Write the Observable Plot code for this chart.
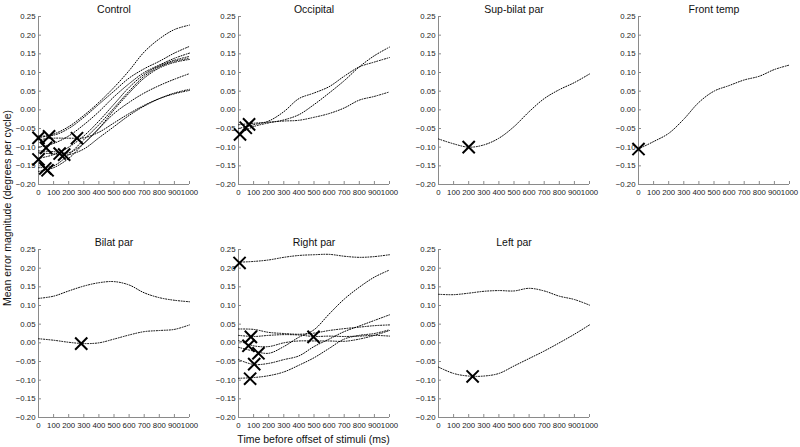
<!DOCTYPE html>
<html><head><meta charset="utf-8">
<script src="https://cdn.jsdelivr.net/npm/d3@7"></script>
<script src="https://cdn.jsdelivr.net/npm/@observablehq/plot@0.6"></script>
<style>
body{margin:0;background:#fff;font-family:"Liberation Sans",Arial,sans-serif;}
#chart{position:relative;width:800px;height:447px;}
.lab{position:absolute;font-size:10.5px;color:#111;white-space:nowrap;line-height:1;}
</style></head><body><div id="chart"></div>
<script>
const times = [0,100,200,300,400,500,600,700,800,900,1000];
const panels = ["Control","Occipital","Sup-bilat par","Front temp","Bilat par","Right par","Left par"];
const panelCol = [0,1,2,3,0,1,2];
const panelRow = [0,0,0,0,1,1,1];
const xTicks = [0,100,200,300,400,500,600,700,800,900,1000];
const yTicks = [-0.20,-0.15,-0.10,-0.05,0.00,0.05,0.10,0.15,0.20,0.25];

// series values at the times above, per panel
const controlSeries = [
  [-0.075,-0.065,-0.045,-0.015,0.02,0.06,0.105,0.155,0.19,0.215,0.227],
  [-0.07,-0.068,-0.05,-0.02,0.015,0.05,0.085,0.11,0.13,0.152,0.17],
  [-0.10,-0.09,-0.07,-0.04,-0.005,0.035,0.07,0.10,0.12,0.138,0.152],
  [-0.13,-0.12,-0.10,-0.07,-0.03,0.015,0.06,0.095,0.118,0.133,0.143],
  [-0.155,-0.15,-0.12,-0.08,-0.04,0.005,0.05,0.09,0.115,0.13,0.138],
  [-0.165,-0.155,-0.13,-0.09,-0.05,0.0,0.045,0.085,0.112,0.127,0.135],
  [-0.11,-0.112,-0.115,-0.09,-0.05,-0.01,0.02,0.045,0.065,0.082,0.097],
  [-0.115,-0.118,-0.12,-0.105,-0.075,-0.045,-0.015,0.01,0.03,0.045,0.055],
  [-0.08,-0.076,-0.076,-0.075,-0.06,-0.035,-0.01,0.012,0.03,0.043,0.052]
];
const occipitalSeries = [
  [-0.065,-0.045,-0.035,-0.027,-0.013,0.014,0.045,0.078,0.115,0.145,0.168],
  [-0.05,-0.04,-0.03,-0.005,0.03,0.045,0.062,0.09,0.115,0.128,0.14],
  [-0.04,-0.036,-0.033,-0.03,-0.028,-0.02,-0.01,0.005,0.026,0.036,0.048]
];
const supBilatSeries = [
  [-0.078,-0.091,-0.10,-0.094,-0.076,-0.045,-0.005,0.03,0.054,0.073,0.096]
];
const frontTempSeries = [
  [-0.105,-0.085,-0.063,-0.025,0.02,0.05,0.065,0.08,0.09,0.108,0.12]
];
const bilatParSeries = [
  [0.119,0.125,0.139,0.152,0.161,0.164,0.155,0.134,0.121,0.114,0.110],
  [0.011,0.007,0.0015,-0.002,0.0,0.01,0.021,0.03,0.033,0.036,0.048]
];
const rightParSeries = [
  [0.216,0.218,0.222,0.229,0.234,0.236,0.237,0.232,0.229,0.231,0.236],
  [-0.012,-0.022,-0.028,-0.01,0.015,0.035,0.077,0.117,0.149,0.176,0.195],
  [0.037,0.036,0.028,0.025,0.023,0.026,0.033,0.038,0.042,0.046,0.048],
  [0.02,0.017,0.02,0.022,0.021,0.017,0.018,0.017,0.018,0.02,0.018],
  [0.006,-0.008,-0.01,0.0,0.005,0.005,0.005,0.004,0.01,0.02,0.033],
  [-0.045,-0.058,-0.055,-0.045,-0.035,-0.01,0.01,0.03,0.045,0.06,0.075],
  [-0.095,-0.093,-0.088,-0.078,-0.06,-0.04,-0.015,0.01,0.02,0.025,0.035]
];
const leftParSeries = [
  [0.13,0.129,0.133,0.138,0.14,0.139,0.146,0.139,0.125,0.116,0.101],
  [-0.065,-0.082,-0.089,-0.089,-0.082,-0.062,-0.042,-0.022,0.0,0.023,0.048]
];
const allSeries = [controlSeries, occipitalSeries, supBilatSeries, frontTempSeries, bilatParSeries, rightParSeries, leftParSeries];

// X markers: [time, value]
const controlMarkers = [[0,-0.075],[70,-0.071],[50,-0.102],[0,-0.133],[45,-0.157],[60,-0.162],[140,-0.117],[170,-0.12],[255,-0.076]];
const occipitalMarkers = [[70,-0.039],[48,-0.048],[10,-0.066]];
const supBilatMarkers = [[200,-0.10]];
const frontTempMarkers = [[0,-0.105]];
const bilatParMarkers = [[283,-0.002]];
const rightParMarkers = [[7,0.214],[82,0.016],[66,-0.008],[132,-0.028],[104,-0.057],[77,-0.096],[497,0.016]];
const leftParMarkers = [[226,-0.09]];
const allMarkers = [controlMarkers, occipitalMarkers, supBilatMarkers, frontTempMarkers, bilatParMarkers, rightParMarkers, leftParMarkers];

const lineRows = [];
allSeries.forEach((ser, p) => ser.forEach((vals, s) => vals.forEach((v, i) =>
  lineRows.push({panel: panels[p], col: panelCol[p], row: panelRow[p], key: p + "-" + s, t: times[i], v}))));
const markRows = [];
allMarkers.forEach((ms, p) => ms.forEach(([t, v]) =>
  markRows.push({panel: panels[p], col: panelCol[p], row: panelRow[p], t, v})));
const titleRows = panels.map((name, p) => ({panel: name, col: panelCol[p], row: panelRow[p]}));

const axisColor = "#8a8a8a";
const chart = Plot.plot({
  width: 800, height: 447,
  marginLeft: 37.5, marginRight: 11.5, marginTop: 16, marginBottom: 30,
  style: {fontFamily: "'Liberation Sans', Arial, sans-serif", background: "white"},
  fx: {domain: [0,1,2,3], paddingInner: 0.245, paddingOuter: 0, axis: null},
  fy: {domain: [0,1], paddingInner: 0.279, paddingOuter: 0, axis: null},
  x: {domain: [0, 1000]},
  y: {domain: [-0.2, 0.25]},
  marks: [
    Plot.ruleX(titleRows, {fx: "col", fy: "row", x: () => 0, stroke: axisColor}),
    Plot.ruleY(titleRows, {fx: "col", fy: "row", y: () => -0.2, stroke: axisColor}),
    Plot.axisX({ticks: xTicks, tickFormat: d => String(d), tickSize: -3, tickPadding: 8, fontSize: 7.8, stroke: axisColor, fill: "#222", label: null, facetAnchor: null}),
    Plot.axisY({ticks: yTicks, tickFormat: d3.format(".2f"), tickSize: -3, tickPadding: 6, fontSize: 7.8, stroke: axisColor, fill: "#222", label: null, facetAnchor: null}),
    Plot.line(lineRows, {fx: "col", fy: "row", x: "t", y: "v", z: "key", curve: "catmull-rom", stroke: "black", strokeWidth: 1, strokeDasharray: "1,1.6"}),
    Plot.dot(markRows, {fx: "col", fy: "row", x: "t", y: "v", symbol: "times", r: 5.6, stroke: "black", strokeWidth: 2}),
    Plot.text(titleRows, {fx: "col", fy: "row", text: "panel", frameAnchor: "top", dy: -4, lineAnchor: "bottom", fontSize: 10.5, fill: "#111"})
  ]
});
const root = document.getElementById("chart");
root.appendChild(chart);
const xl = document.createElement("div");
xl.className = "lab";
xl.textContent = "Time before offset of stimuli (ms)";
xl.style.left = "313.5px"; xl.style.top = "434px"; xl.style.transform = "translateX(-50%)";
root.appendChild(xl);
const yl = document.createElement("div");
yl.className = "lab";
yl.textContent = "Mean error magnitude (degrees per cycle)";
yl.style.left = "7px"; yl.style.top = "208px";
yl.style.transform = "translate(-50%,-50%) rotate(-90deg)";
root.appendChild(yl);
</script></body></html>
